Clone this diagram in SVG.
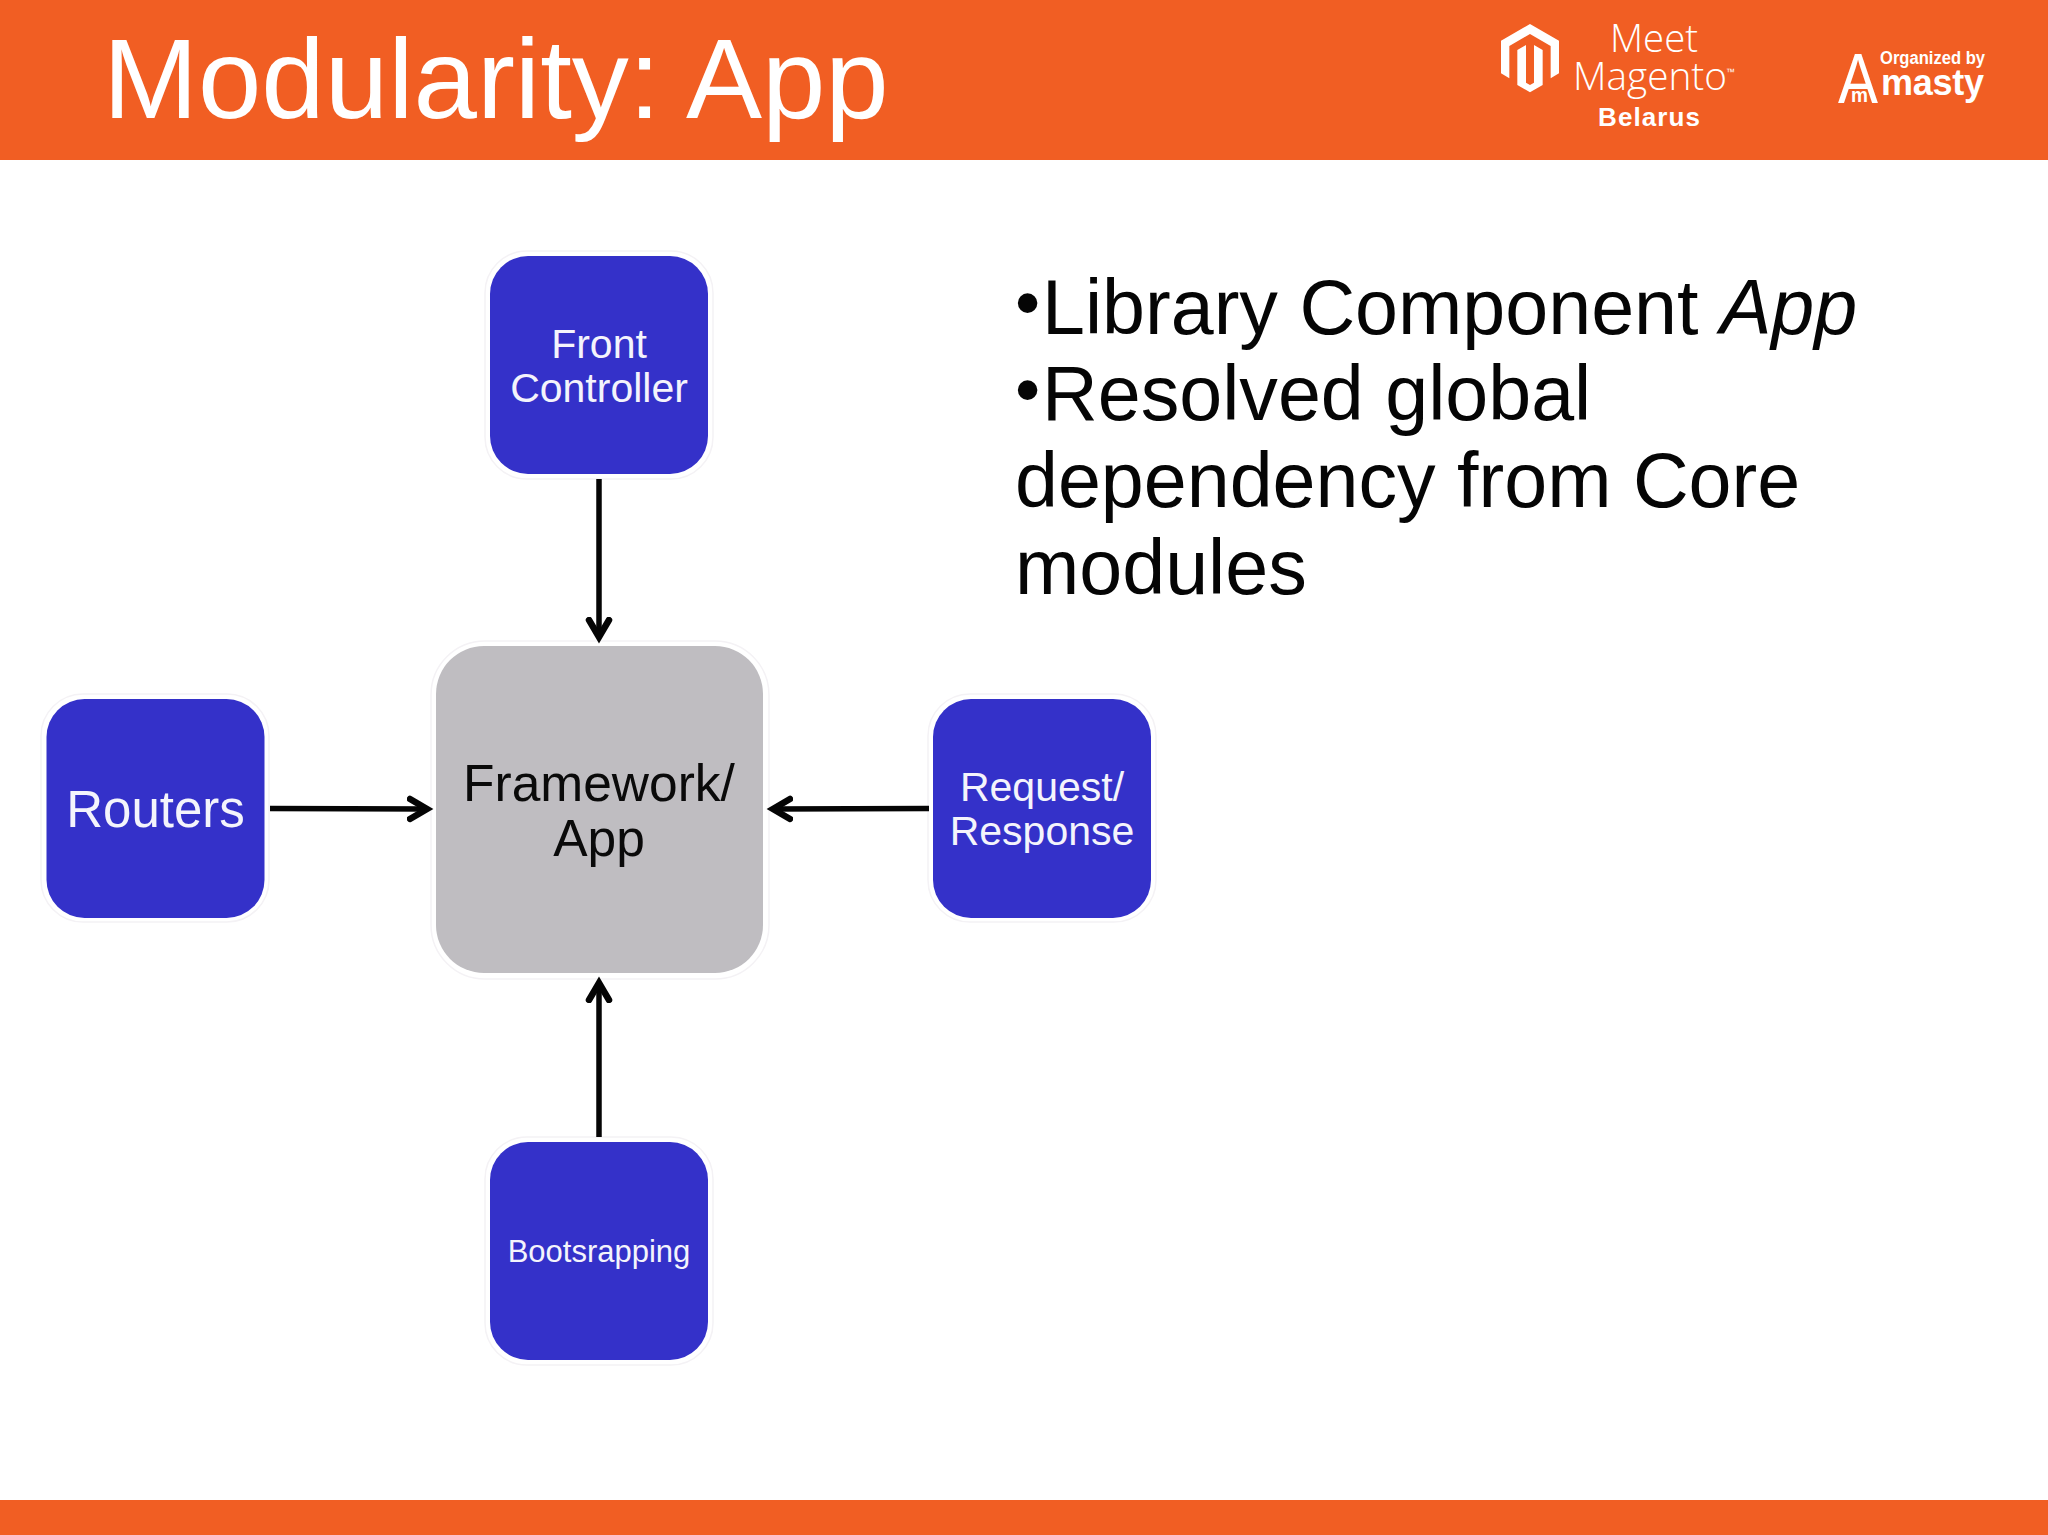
<svg xmlns="http://www.w3.org/2000/svg" width="2048" height="1535" viewBox="0 0 2048 1535">
<style>
text{font-family:"Liberation Sans",Arial,sans-serif}
.halo{fill:#fff;stroke:#f4f2f5;stroke-width:1.5}
.blue{fill:#3431c9}
.gray{fill:#bfbdc1}
.wt{fill:#f4f4fc;text-anchor:middle}
.bk{fill:#0a0a0a;text-anchor:middle}
.body{fill:#050505;font-size:77.2px}
.conn{fill:none;stroke:#050505;stroke-width:5.5}
.logo{fill:#fff}
.cond{font-family:"Open Sans","Liberation Sans",sans-serif;font-weight:350}
</style>
<defs>
<marker id="arrow" markerUnits="userSpaceOnUse" markerWidth="32" markerHeight="28" refX="20" refY="14" viewBox="0 0 32 28" orient="auto">
<path d="M3 4L20 14L3 24" fill="none" stroke="#050505" stroke-width="6.500" stroke-linecap="round"/>
</marker>
</defs>
<rect width="2048" height="1535" fill="#fff"/>
<g id="header">
<rect width="2048" height="160" fill="#f15e23"/>
<text x="103" y="118" font-size="114" fill="#fff">Modularity: App</text>
</g>
<g id="logo-meet-magento">
<g transform="translate(1490 10) scale(.3333)">
<path class="logo" d="M120 42L207 92V190L182 205V108L120 72L58 108V205L33 190V92Z"/>
<path class="logo" d="M82 120L108 105V218L120 225L132 218V105L158 120V225L120 247L82 225Z"/>
</g>
<text class="logo cond" x="1610" y="52" font-size="39" textLength="88" lengthAdjust="spacingAndGlyphs">Meet</text>
<text class="logo cond" x="1573" y="90" font-size="39" textLength="154" lengthAdjust="spacingAndGlyphs">Magento</text>
<text class="logo" x="1726" y="75" font-size="9">™</text>
<text class="logo" x="1598" y="126" font-size="26" font-weight="700" textLength="102">Belarus</text>
</g>
<g id="logo-amasty">
<text class="logo" x="1838" y="103" font-size="70" textLength="40" lengthAdjust="spacingAndGlyphs">A</text>
<text class="logo" x="1851" y="102" font-size="20" font-weight="700" textLength="17" lengthAdjust="spacingAndGlyphs">m</text>
<text class="logo" x="1880" y="64" font-size="18" font-weight="700" textLength="105" lengthAdjust="spacingAndGlyphs">Organized by</text>
<text class="logo" x="1881" y="95" font-size="36" font-weight="700" textLength="103">masty</text>
</g>
<g id="bullets">
<text class="body"><tspan x="1015" y="327" font-size="72">•</tspan><tspan x="1042" y="334">Library Component <tspan font-style="italic">App</tspan></tspan></text>
<text class="body"><tspan x="1015" y="413.500" font-size="72">•</tspan><tspan x="1042" y="420">Resolved global</tspan></text>
<text class="body" x="1015" y="507">dependency from Core</text>
<text class="body" x="1015" y="593.500">modules</text>
</g>
<g id="node-front-controller">
<rect class="halo" x="485" y="251" width="228" height="228" rx="42"/>
<rect class="blue" x="490" y="256" width="218" height="218" rx="38"/>
<text class="wt" x="599" y="358" font-size="41">Front</text>
<text class="wt" x="599" y="402" font-size="41">Controller</text>
</g>
<g id="node-routers">
<rect class="halo" x="41" y="694" width="228" height="228" rx="42"/>
<rect class="blue" x="46.500" y="699" width="218" height="219" rx="38"/>
<text class="wt" x="155.500" y="827" font-size="51">Routers</text>
</g>
<g id="node-framework-app">
<rect class="halo" x="431" y="641" width="338" height="338" rx="54"/>
<rect class="gray" x="436" y="646" width="327" height="327" rx="48"/>
<text class="bk" x="599" y="801" font-size="51.500">Framework/</text>
<text class="bk" x="599" y="856" font-size="51.500">App</text>
</g>
<g id="node-request-response">
<rect class="halo" x="928" y="694" width="228" height="228" rx="42"/>
<rect class="blue" x="933" y="699" width="218" height="219" rx="38"/>
<text class="wt" x="1042" y="801" font-size="41">Request/</text>
<text class="wt" x="1042" y="845" font-size="41">Response</text>
</g>
<g id="node-bootstrapping">
<rect class="halo" x="485" y="1137" width="228" height="228" rx="42"/>
<rect class="blue" x="490" y="1142" width="218" height="218" rx="38"/>
<text class="wt" x="599" y="1262" font-size="31">Bootsrapping</text>
</g>
<g id="connectors">
<line class="conn" x1="599" y1="479" x2="599" y2="637" marker-end="url(#arrow)"/>
<line class="conn" x1="270" y1="808.500" x2="427" y2="809" marker-end="url(#arrow)"/>
<line class="conn" x1="929" y1="808.500" x2="773" y2="809" marker-end="url(#arrow)"/>
<line class="conn" x1="599" y1="1137" x2="599" y2="983" marker-end="url(#arrow)"/>
</g>
<rect id="footer" y="1500" width="2048" height="35" fill="#f15e23"/>
</svg>
